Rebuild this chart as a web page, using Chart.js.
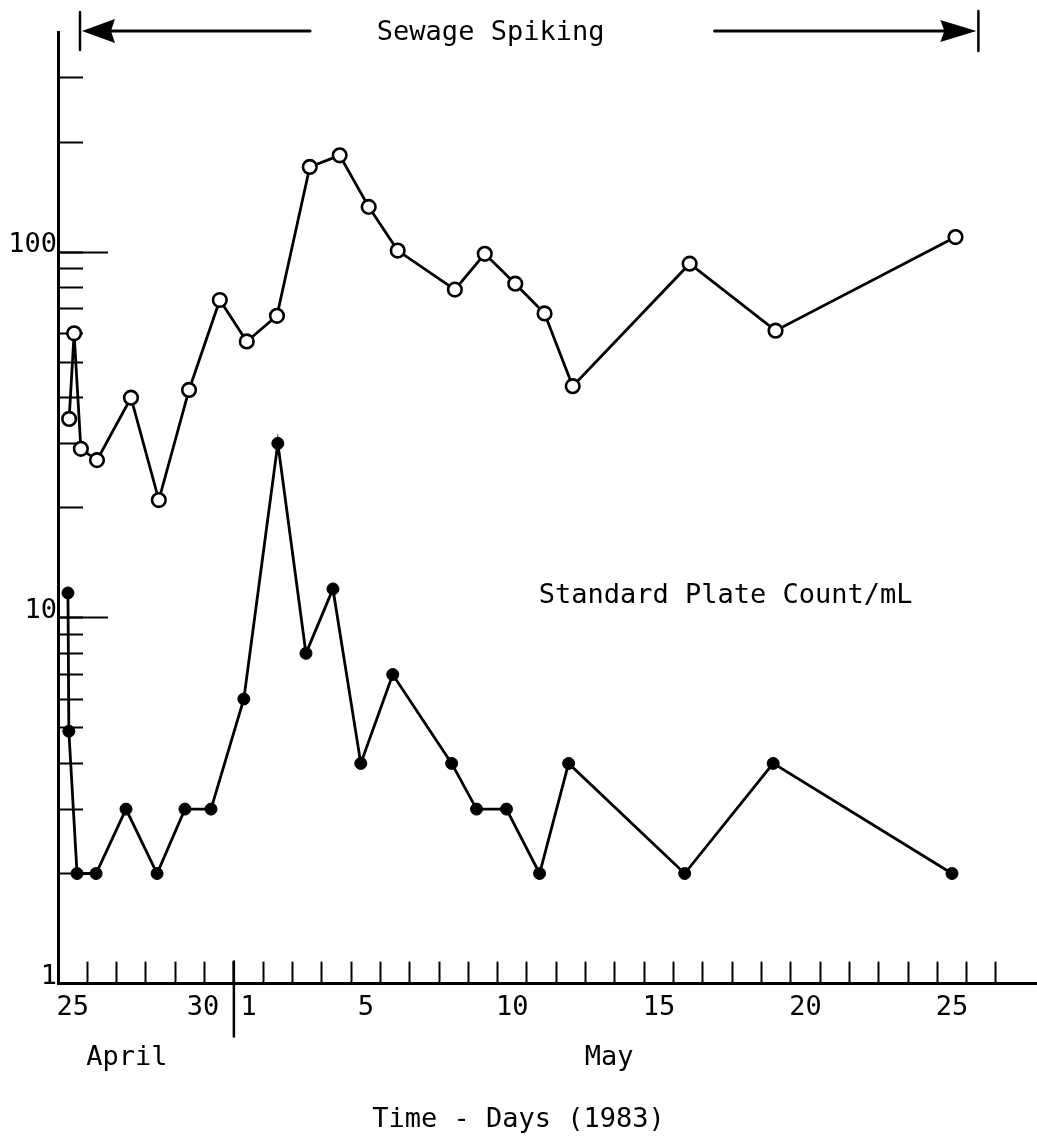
<!DOCTYPE html>
<html>
<head>
<meta charset="utf-8">
<title>Sewage Spiking - Standard Plate Count</title>
<script src="https://cdn.jsdelivr.net/npm/chart.js@4.4.1/dist/chart.umd.min.js"></script>
<style>
  html, body { margin: 0; padding: 0; background: #fff; }
  canvas { display: block; }
</style>
</head>
<body>
<canvas id="spikeChart" width="1037" height="1143"></canvas>
<script>
  "use strict";

  // x = days after 25 April 1983 (each day is one cell between tick marks)
  const openDays = [-0.12, 0.05, 0.28, 0.83, 1.99, 2.94, 3.97, 5.02, 5.94, 6.97, 8.09,
    9.11, 10.1, 11.09, 13.04, 14.06, 15.1, 16.1, 17.06, 21.05, 23.98, 30.12];
  const openCounts = [35, 60, 29, 27, 40, 21, 42, 74, 57, 67, 171,
    184, 133, 101, 79, 99, 82, 68, 43, 93, 61, 110];

  const plateDays = [-0.16, -0.13, 0.15, 0.8, 1.82, 2.88, 3.83, 4.72, 5.84, 7.0, 7.96,
    8.88, 9.83, 10.92, 12.93, 13.78, 14.8, 15.93, 16.92, 20.88, 23.9, 30.0];
  const plateCounts = [11.7, 4.9, 2, 2, 3, 2, 3, 3, 6, 30, 8,
    12, 4, 7, 4, 3, 3, 2, 4, 2, 4, 2];

  // axis ticks and labels
  const dayLabelValues = [0, 5, 6, 10, 15, 20, 25, 30];
  const dayLabels = ["25", "30  ", "1", "5", "10", "15", "20", "25"];
  const dayTickMarks = Array.from({ length: 32 }, (_, i) => i + 0.5);
  const monthLabelValues = [1.85, 18.3];
  const monthLabels = ["April", "May"];
  const yMinorTicks = [1, 2, 3, 4, 5, 6, 7, 8, 9, 10, 20, 30, 40, 50, 60, 70, 80, 90, 100, 200, 300];
  const yMajorTicks = [1, 10, 100];

  // annotation anchors (in axis values)
  const monthBreak = 5.5;
  const spikeStart = 0.25;
  const spikeEnd = 30.9;
  const spikeGapFrom = 8.1;
  const spikeGapTo = 21.9;
  const spikeTextAt = 14.26;
  const seriesTextAt = { x: 15.9, y: 11.5 };

  const FONT = "DejaVu Sans Mono";
  Chart.defaults.font.family = FONT;
  Chart.defaults.color = "#000";

  const textFont = { family: FONT, size: 27, weight: "normal", lineHeight: 1.2 };

  // drop the label padding Chart.js reserves around the chart area
  function noPadding(scale) {
    scale.paddingTop = 0;
    scale.paddingBottom = 0;
    scale.paddingLeft = 0;
    scale.paddingRight = 0;
  }

  const extras = {
    id: "extras",
    afterDraw(chart) {
      const { ctx, chartArea } = chart;
      const x = chart.scales.x;
      const y = chart.scales.y;
      ctx.save();
      ctx.strokeStyle = "#000";
      ctx.fillStyle = "#000";
      ctx.lineCap = "round";

      function seg(x1, y1, x2, y2, w) {
        ctx.lineWidth = w;
        ctx.beginPath();
        ctx.moveTo(x1, y1);
        ctx.lineTo(x2, y2);
        ctx.stroke();
      }

      // April / May divider
      const bx = x.getPixelForValue(monthBreak);
      seg(bx, chartArea.bottom - 22, bx, chartArea.bottom + 53, 2.5);

      // Sewage spiking arrows
      const ay = chartArea.top - 1;
      const x0 = x.getPixelForValue(spikeStart);
      const x1 = x.getPixelForValue(spikeEnd);
      seg(x0, ay - 19, x0, ay + 19, 2.5);
      seg(x1, ay - 20, x1, ay + 20, 2.5);
      ctx.beginPath();
      ctx.moveTo(x0 + 2, ay);
      ctx.lineTo(x0 + 35, ay - 12);
      ctx.lineTo(x0 + 31, ay);
      ctx.lineTo(x0 + 35, ay + 12);
      ctx.closePath();
      ctx.fill();
      ctx.beginPath();
      ctx.moveTo(x1 - 2, ay);
      ctx.lineTo(x1 - 38, ay - 11);
      ctx.lineTo(x1 - 34, ay);
      ctx.lineTo(x1 - 38, ay + 11);
      ctx.closePath();
      ctx.fill();
      seg(x0 + 30, ay, x.getPixelForValue(spikeGapFrom), ay, 3);
      seg(x.getPixelForValue(spikeGapTo), ay, x1 - 33, ay, 3);

      ctx.font = "27px '" + FONT + "'";
      ctx.textBaseline = "middle";
      ctx.textAlign = "center";
      ctx.fillText("Sewage Spiking", x.getPixelForValue(spikeTextAt), ay + 2);

      ctx.textAlign = "left";
      ctx.fillText("Standard Plate Count/mL",
        x.getPixelForValue(seriesTextAt.x), y.getPixelForValue(seriesTextAt.y));
      ctx.restore();
    },
  };

  new Chart(document.getElementById("spikeChart"), {
    type: "line",
    data: {
      datasets: [
        {
          label: "Open circles",
          data: openDays.map((d, i) => ({ x: d, y: openCounts[i] })),
          borderColor: "#000",
          borderWidth: 2.8,
          pointRadius: 6.8,
          pointBorderWidth: 2.6,
          pointBorderColor: "#000",
          pointBackgroundColor: "#fff",
          tension: 0,
          fill: false,
        },
        {
          label: "Standard Plate Count/mL",
          data: plateDays.map((d, i) => ({ x: d, y: plateCounts[i] })),
          borderColor: "#000",
          borderWidth: 2.8,
          pointRadius: 6,
          pointBorderWidth: 1,
          pointBorderColor: "#000",
          pointBackgroundColor: "#000",
          tension: 0,
          fill: false,
        },
      ],
    },
    options: {
      responsive: false,
      animation: false,
      events: [],
      layout: { autoPadding: false, padding: { top: 32, left: 0, right: 0, bottom: 0 } },
      plugins: {
        legend: { display: false },
        tooltip: { enabled: false },
        title: {
          display: true,
          position: "bottom",
          text: "Time - Days (1983)",
          color: "#000",
          font: textFont,
          padding: { top: 20, bottom: 7 },
        },
      },
      scales: {
        x: {
          type: "linear",
          position: "bottom",
          weight: 0,
          min: -0.5,
          max: 32.9,
          afterBuildTicks: (scale) => {
            scale.ticks = dayTickMarks.concat(dayLabelValues).map((v) => ({ value: v }));
          },
          afterFit: (scale) => {
            scale.height = 50;
            noPadding(scale);
          },
          ticks: {
            autoSkip: false,
            maxRotation: 0,
            minRotation: 0,
            padding: 30,
            font: textFont,
            color: "#000",
            callback: (value) => {
              const i = dayLabelValues.indexOf(value);
              return i >= 0 ? dayLabels[i] : "";
            },
          },
          grid: {
            drawOnChartArea: false,
            drawTicks: true,
            tickLength: -22,
            tickWidth: 2,
            tickColor: (ctx) =>
              ctx.tick && Number.isInteger(ctx.tick.value) ? "rgba(0,0,0,0)" : "#000",
          },
          border: { display: true, color: "#000", width: 3 },
        },
        month: {
          type: "linear",
          position: "bottom",
          weight: 1,
          min: -0.5,
          max: 32.9,
          afterBuildTicks: (scale) => {
            scale.ticks = monthLabelValues.map((v) => ({ value: v }));
          },
          afterFit: (scale) => {
            scale.height = 50;
            noPadding(scale);
          },
          ticks: {
            autoSkip: false,
            maxRotation: 0,
            padding: 8,
            font: textFont,
            color: "#000",
            callback: (value) => {
              const i = monthLabelValues.indexOf(value);
              return i >= 0 ? monthLabels[i] : "";
            },
          },
          grid: { display: false, drawTicks: false },
          border: { display: false },
        },
        y: {
          type: "logarithmic",
          position: "left",
          weight: 1,
          min: 1,
          max: 400,
          afterBuildTicks: (scale) => {
            scale.ticks = yMinorTicks.map((v) => ({ value: v }));
          },
          afterFit: (scale) => {
            scale.width = 58;
            noPadding(scale);
          },
          ticks: {
            autoSkip: false,
            padding: 26,
            labelOffset: -7,
            font: textFont,
            color: "#000",
            callback: (value) => (yMajorTicks.includes(value) ? String(value) : ""),
          },
          grid: {
            drawOnChartArea: false,
            drawTicks: true,
            tickLength: -25,
            tickWidth: 2,
            tickColor: "#000",
          },
          border: { display: true, color: "#000", width: 3 },
        },
        yMajor: {
          type: "logarithmic",
          position: "left",
          weight: 0,
          min: 1,
          max: 400,
          afterBuildTicks: (scale) => {
            scale.ticks = yMajorTicks.map((v) => ({ value: v }));
          },
          afterFit: (scale) => {
            scale.width = 0;
            noPadding(scale);
          },
          ticks: { display: false },
          grid: {
            drawOnChartArea: false,
            drawTicks: true,
            tickLength: -50,
            tickWidth: 2,
            tickColor: "#000",
          },
          border: { display: false },
        },
      },
    },
    plugins: [extras],
  });
</script>
</body>
</html>
